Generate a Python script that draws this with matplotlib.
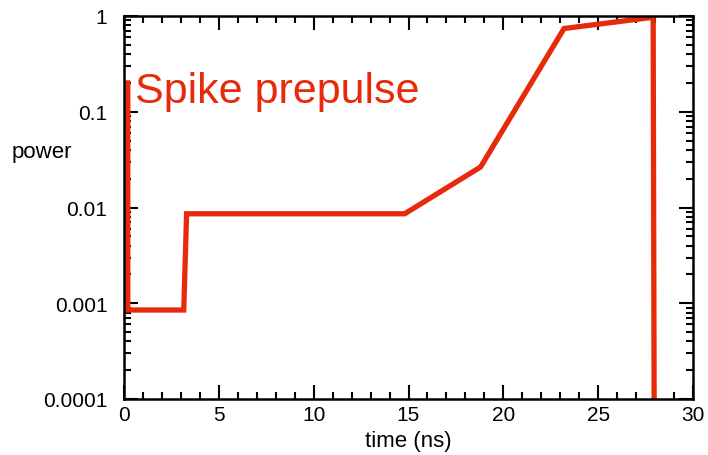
import numpy as np
import matplotlib.pyplot as plt
from matplotlib.ticker import FixedLocator, LogLocator, NullFormatter, MultipleLocator

plt.rcParams['font.family'] = ['Liberation Sans', 'DejaVu Sans']

# pulse shape
time_ns = [0.2, 0.2, 3.15, 3.3, 14.8, 18.8, 23.2, 27.9, 27.95]
power = [0.2, 0.00085, 0.00085, 0.0086, 0.0086, 0.0265, 0.74, 0.97, 0.0001]

yticks = [1e-4, 1e-3, 1e-2, 1e-1, 1]
ylabels = ['0.0001', '0.001', '0.01', '0.1', '1']

red = '#e62a0a'

fig = plt.figure(figsize=(7.08, 4.56), dpi=100)
ax = fig.add_axes([124/708, 1 - 400/456, (693-124)/708, (400-17)/456])
ax.plot(time_ns, power, color=red, lw=3.8, solid_joinstyle='miter')
ax.set_yscale('log')
ax.set_xlim(0, 30)
ax.set_ylim(1e-4, 1)
ax.xaxis.set_major_locator(MultipleLocator(5))
ax.xaxis.set_minor_locator(MultipleLocator(1))
ax.yaxis.set_major_locator(FixedLocator(yticks))
ax.yaxis.set_minor_locator(LogLocator(base=10, subs=np.arange(2, 10)))
ax.yaxis.set_minor_formatter(NullFormatter())
ax.set_yticklabels(ylabels)
ax.tick_params(which='both', direction='in', top=True, right=True, width=1.5, labelsize=15)
ax.tick_params(which='major', length=10)
ax.tick_params(which='minor', length=5)
ax.tick_params(axis='y', which='major', pad=12)
ax.tick_params(axis='x', which='major', pad=4)
for s in ax.spines.values():
    s.set_linewidth(1.8)
ax.set_xlabel('time (ns)', fontsize=16)
ax.xaxis.set_label_coords(0.5, (400 - 442) / 383)
ax.xaxis.label.set_va('center')
ax.set_ylabel('power', fontsize=16, rotation=0)
ax.yaxis.set_label_coords((42 - 124) / 569, (400 - 153) / 383)
ax.yaxis.label.set_va('center')
ax.yaxis.label.set_ha('center')
ax.text((135 - 124) / 569, (400 - 103) / 383, 'Spike prepulse', color=red, fontsize=31,
        va='baseline', ha='left', transform=ax.transAxes)
fig.savefig('out.png', dpi=100)
